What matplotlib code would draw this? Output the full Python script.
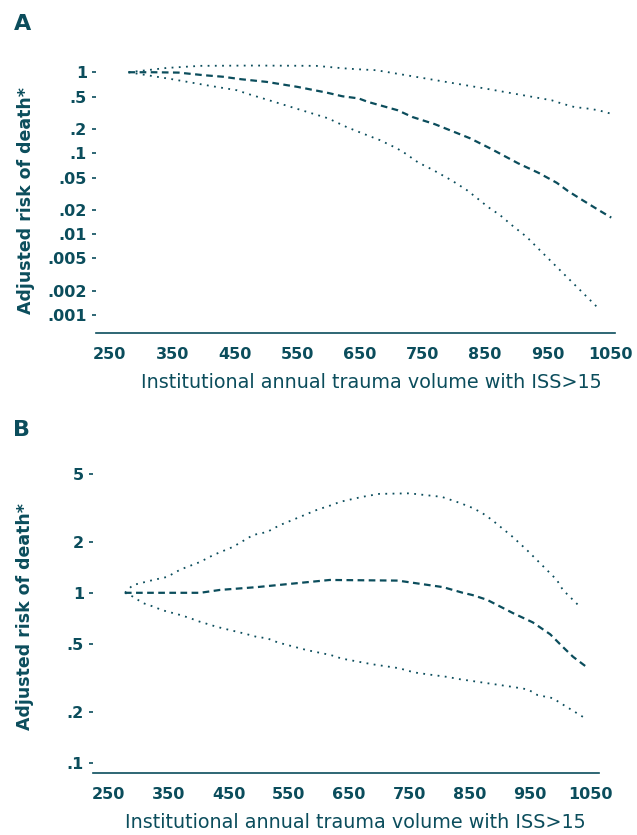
import matplotlib
matplotlib.use("Agg")
import matplotlib.pyplot as plt
from matplotlib.ticker import FixedLocator, FixedFormatter, NullLocator

TEAL = "#0b4d5c"

xticks = [250, 350, 450, 550, 650, 750, 850, 950, 1050]
xtick_labels = ["250", "350", "450", "550", "650", "750", "850", "950", "1050"]

# panel A
a_yticks = [1, .5, .2, .1, .05, .02, .01, .005, .002, .001]
a_ytick_labels = ["1", ".5", ".2", ".1", ".05", ".02", ".01", ".005", ".002", ".001"]

a_est_x = [280, 320, 360, 400, 431, 460, 501, 550, 597, 622, 648, 663, 710, 734, 770,
           826, 858, 885, 903, 936, 965, 983, 1007, 1031, 1052]
a_est_y = [1.0, 1.0, 0.99, 0.92, 0.88, 0.82, 0.76, 0.66, 0.56, 0.505, 0.475, 0.43, 0.34,
           0.28, 0.228, 0.153, 0.115, 0.089, 0.075, 0.057, 0.043, 0.034, 0.026, 0.02, 0.016]

a_hi_x = [280, 341, 395, 480, 580, 623, 645, 676, 735, 850, 957, 973, 994, 1010, 1031, 1050]
a_hi_y = [1.0, 1.13, 1.2, 1.21, 1.2, 1.12, 1.09, 1.06, 0.89, 0.63, 0.45, 0.41, 0.37, 0.36,
          0.34, 0.31]

a_lo_x = [280, 350, 410, 453, 471, 501, 599, 629, 653, 682, 709, 722, 743, 767, 797, 821,
          837, 855, 874, 893, 917, 933, 999, 1031]
a_lo_y = [1.0, 0.82, 0.68, 0.6, 0.54, 0.46, 0.27, 0.21, 0.177, 0.145, 0.115, 0.1, 0.077,
          0.062, 0.046, 0.035, 0.028, 0.0216, 0.0172, 0.0129, 0.0092, 0.0069, 0.00215, 0.00122]

# panel B
b_yticks = [5, 2, 1, .5, .2, .1]
b_ytick_labels = ["5", "2", "1", ".5", ".2", ".1"]

b_est_x = [278, 340, 403, 436, 497, 618, 731, 806, 839, 855, 879, 901, 922, 955, 984,
           1005, 1022, 1047]
b_est_y = [1.0, 1.0, 1.0, 1.04, 1.08, 1.19, 1.18, 1.08, 1.0, 0.97, 0.91, 0.83, 0.76, 0.67,
           0.57, 0.48, 0.42, 0.36]

b_hi_x = [278, 291, 325, 348, 370, 403, 425, 457, 491, 514, 535, 557, 597, 622, 635, 672,
          700, 750, 804, 834, 855, 871, 887, 901, 920, 945, 970, 995, 1005, 1033]
b_hi_y = [1.0, 1.11, 1.19, 1.24, 1.37, 1.52, 1.67, 1.86, 2.19, 2.28, 2.5, 2.69, 3.08, 3.29,
          3.43, 3.67, 3.82, 3.85, 3.67, 3.38, 3.16, 2.95, 2.69, 2.45, 2.16, 1.79, 1.46, 1.19,
          1.04, 0.83]

b_lo_x = [278, 291, 308, 325, 340, 370, 386, 400, 431, 447, 464, 481, 497, 514, 532, 580,
          620, 638, 688, 733, 758, 784, 813, 834, 920, 947, 963, 988, 1005, 1045]
b_lo_y = [1.0, 0.95, 0.87, 0.83, 0.79, 0.74, 0.71, 0.68, 0.63, 0.61, 0.59, 0.57, 0.55, 0.54,
          0.51, 0.46, 0.43, 0.41, 0.38, 0.36, 0.34, 0.33, 0.32, 0.31, 0.28, 0.27, 0.25, 0.24,
          0.22, 0.18]

xlabel = "Institutional annual trauma volume with ISS>15"
ylabel = "Adjusted risk of death*"


def draw_panel(ax, est, hi, lo, yticks, ylabels, xlim, ylim):
    ax.plot(est[0], est[1], color=TEAL, lw=1.6, ls=(0, (3, 2)))
    ax.plot(hi[0], hi[1], color=TEAL, lw=1.3, ls=(0, (1, 3)))
    ax.plot(lo[0], lo[1], color=TEAL, lw=1.3, ls=(0, (1, 3)))
    ax.set_yscale("log")
    ax.set_xlim(*xlim)
    ax.set_ylim(*ylim)
    ax.yaxis.set_major_locator(FixedLocator(yticks))
    ax.yaxis.set_major_formatter(FixedFormatter(ylabels))
    ax.yaxis.set_minor_locator(NullLocator())
    ax.set_xticks(xticks)
    ax.set_xticklabels(xtick_labels)
    for s in ("top", "right", "left"):
        ax.spines[s].set_visible(False)
    ax.spines["bottom"].set_color(TEAL)
    ax.spines["bottom"].set_linewidth(1.2)
    ax.tick_params(axis="both", colors=TEAL, labelsize=11.5, length=3, width=1.2)
    ax.tick_params(axis="x", length=0, pad=10)
    for t in ax.get_xticklabels() + ax.get_yticklabels():
        t.set_fontweight("bold")


fig = plt.figure(figsize=(6.37, 8.35), dpi=100)

axA = fig.add_axes([96 / 637, 1 - 333 / 835, (615 - 96) / 637, (333 - 58) / 835])
draw_panel(axA, (a_est_x, a_est_y), (a_hi_x, a_hi_y), (a_lo_x, a_lo_y),
           a_yticks, a_ytick_labels, (228, 1058), (0.0006, 1.5))

axB = fig.add_axes([93 / 637, 1 - 773 / 835, (599 - 93) / 637, (773 - 467) / 835])
draw_panel(axB, (b_est_x, b_est_y), (b_hi_x, b_hi_y), (b_lo_x, b_lo_y),
           b_yticks, b_ytick_labels, (225, 1065), (0.087, 5.5))

# axis titles placed where the reference has them
fig.text(371 / 637, 1 - 383 / 835, xlabel, color=TEAL, fontsize=13.8,
         ha="center", va="center")
fig.text(355 / 637, 1 - 822 / 835, xlabel, color=TEAL, fontsize=13.8,
         ha="center", va="center")
fig.text(26 / 637, 1 - 200 / 835, ylabel, color=TEAL, fontsize=12.5, fontweight="bold",
         rotation=90, ha="center", va="center")
fig.text(25 / 637, 1 - 617 / 835, ylabel, color=TEAL, fontsize=12.5, fontweight="bold",
         rotation=90, ha="center", va="center")

fig.text(14 / 637, 1 - 30 / 835, "A", color=TEAL, fontsize=16, fontweight="bold")
fig.text(13 / 637, 1 - 436 / 835, "B", color=TEAL, fontsize=16, fontweight="bold")

fig.savefig("out.png", dpi=100)
